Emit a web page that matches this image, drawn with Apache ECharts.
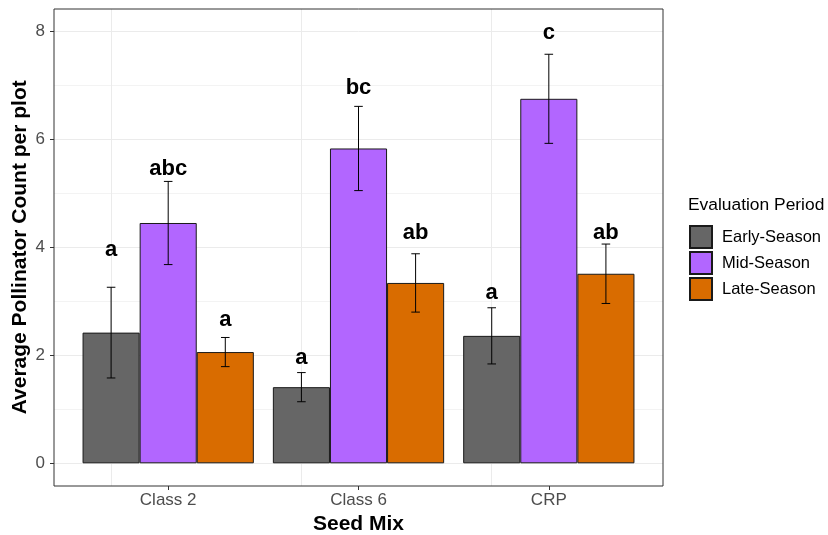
<!DOCTYPE html>
<html>
<head>
<meta charset="utf-8">
<script src="https://cdn.jsdelivr.net/npm/echarts@6/dist/echarts.min.js"></script>
<style>
  html, body { margin: 0; padding: 0; background: #ffffff; }
  #chart { width: 828px; height: 535px; }
</style>
</head>
<body>
<div id="chart"></div>
<script>
// Seed mixes on the x axis
const categories = ['Class 2', 'Class 6', 'CRP'];
// Evaluation periods (one bar each per seed mix)
const periods = ['Early-Season', 'Mid-Season', 'Late-Season'];
const periodColors = ['#666666', '#B266FF', '#D96C00'];

// Mean pollinator counts per plot and standard errors
const earlyMean = [2.42, 1.41, 2.36];
const earlySE   = [0.84, 0.27, 0.52];
const midMean   = [4.45, 5.83, 6.75];
const midSE     = [0.77, 0.78, 0.825];
const lateMean  = [2.06, 3.34, 3.51];
const lateSE    = [0.27, 0.54, 0.55];

// Significance letters and the heights they are written at
const earlyLetters = ['a', 'a', 'a'];
const midLetters   = ['abc', 'bc', 'c'];
const lateLetters  = ['a', 'ab', 'ab'];
const earlyLetterY = [3.95, 1.96, 3.15];
const midLetterY   = [5.46, 6.95, 7.97];
const lateLetterY  = [2.66, 4.26, 4.27];

// y axis ticks
const yTicks = [0, 2, 4, 6, 8];

const FONT = '"Liberation Sans", Arial, sans-serif';

const groups = [
  { mean: earlyMean, se: earlySE, letters: earlyLetters, letterY: earlyLetterY },
  { mean: midMean,   se: midSE,   letters: midLetters,   letterY: midLetterY },
  { mean: lateMean,  se: lateSE,  letters: lateLetters,  letterY: lateLetterY }
];

// panel geometry (ggplot-style discrete expansion of 0.6 band on each side)
const panel = { left: 54, top: 9, width: 609, height: 477 };
const band = panel.width / 3.2;
const zeroY = 463.3, unitPx = 54;
const yMinPanel = -(panel.top + panel.height - zeroY) / unitPx;
const yMaxPanel = (zeroY - panel.top) / unitPx;

function barSeries(k) {
  const s = {
    name: periods[k],
    type: 'bar',
    xAxisIndex: 2,
    yAxisIndex: 2,
    data: groups[k].mean,
    barWidth: '30%',
    barGap: '0%',
    z: 2,
    itemStyle: { color: periodColors[k], borderColor: '#1A1A1A', borderWidth: 1 }
  };
  if (k === 0) {
    // vertical grid lines at the seed-mix positions, kept under the bars
    s.markLine = {
      silent: true,
      symbol: 'none',
      z: 1,
      label: { show: false },
      lineStyle: { color: '#EBEBEB', width: 1, type: 'solid' },
      emphasis: { disabled: true },
      data: categories.map(c => ({ xAxis: c }))
    };
  }
  return s;
}

function errorSeries(k) {
  const g = groups[k];
  return {
    name: periods[k] + ' SE',
    type: 'custom',
    xAxisIndex: 2,
    yAxisIndex: 2,
    z: 4,
    silent: true,
    encode: { x: 0, y: 1 },
    data: categories.map((c, i) => [i, g.mean[i], g.se[i], g.letterY[i]]),
    renderItem: function (params, api) {
      const ci = api.value(0);
      const m = api.value(1), se = api.value(2);
      const bw = api.size([1, 0])[0];
      const x = api.coord([ci, m])[0] + (k - 1) * 0.3 * bw;
      const yTop = api.coord([ci, m + se])[1];
      const yBot = api.coord([ci, m - se])[1];
      const half = 0.0225 * bw;
      const ly = api.coord([ci, api.value(3)])[1];
      const st = { stroke: '#000000', lineWidth: 1 };
      return {
        type: 'group',
        children: [
          { type: 'line', shape: { x1: x, y1: yTop, x2: x, y2: yBot }, style: st },
          { type: 'line', shape: { x1: x - half, y1: yTop, x2: x + half, y2: yTop }, style: st },
          { type: 'line', shape: { x1: x - half, y1: yBot, x2: x + half, y2: yBot }, style: st },
          {
            type: 'text', x: x, y: ly,
            style: {
              text: g.letters[params.dataIndex],
              font: 'bold 22px ' + FONT,
              fill: '#000000',
              align: 'center',
              verticalAlign: 'middle'
            }
          }
        ]
      };
    }
  };
}

const chart = echarts.init(document.getElementById('chart'), null, { renderer: 'canvas' });

const gridCommon = { containLabel: false, outerBoundsMode: 'none' };

chart.setOption({
  animation: false,
  backgroundColor: '#ffffff',
  textStyle: { fontFamily: FONT },
  title: {
    text: 'Evaluation Period',
    left: 688,
    top: 197,
    padding: 0,
    textStyle: { fontSize: 17.4, fontWeight: 'normal', color: '#000000', fontFamily: FONT }
  },
  legend: {
    data: periods,
    orient: 'vertical',
    left: 689,
    top: 225,
    padding: 0,
    icon: 'rect',
    itemWidth: 22,
    itemHeight: 22,
    itemGap: 2,
    selectedMode: false,
    textStyle: { fontSize: 16.5, color: '#000000', fontFamily: FONT, padding: [0, 0, 0, 5] }
  },
  grid: [
    // panel frame
    Object.assign({ left: panel.left, top: panel.top, width: panel.width, height: panel.height,
      show: true, borderColor: '#333333', borderWidth: 1, backgroundColor: 'transparent', z: 10 }, gridCommon),
    // y scale 0..8 across the full panel width
    Object.assign({ left: panel.left, top: zeroY - 8 * unitPx, width: panel.width, height: 8 * unitPx }, gridCommon),
    // seed-mix bands
    Object.assign({ left: panel.left + 0.1 * band, top: panel.top, width: 3 * band, height: panel.height }, gridCommon)
  ],
  xAxis: [
    { gridIndex: 0, type: 'value', show: false, min: 0, max: 1 },
    { gridIndex: 1, type: 'value', show: false, min: 0, max: 1 },
    {
      gridIndex: 2,
      type: 'category',
      data: categories,
      boundaryGap: true,
      axisLine: { show: false, onZero: false },
      axisTick: { show: true, alignWithLabel: true, length: 4, lineStyle: { color: '#333333', width: 1 } },
      axisLabel: { color: '#4D4D4D', fontSize: 17, margin: 6, fontFamily: FONT },
      splitLine: { show: false },
      name: 'Seed Mix',
      nameLocation: 'middle',
      nameGap: 28,
      nameMoveOverlap: false,
      nameTextStyle: { fontSize: 21, fontWeight: 'bold', color: '#000000', fontFamily: FONT }
    }
  ],
  yAxis: [
    { gridIndex: 0, type: 'value', show: false, min: 0, max: 1 },
    {
      gridIndex: 1,
      type: 'value',
      min: yTicks[0],
      max: yTicks[yTicks.length - 1],
      interval: 2,
      axisLine: { show: false, onZero: false },
      axisTick: { show: true, length: 4, lineStyle: { color: '#333333', width: 1 } },
      axisLabel: { color: '#4D4D4D', fontSize: 17, margin: 9, fontFamily: FONT },
      splitLine: { show: true, lineStyle: { color: '#EBEBEB', width: 1 } },
      minorTick: { show: false, splitNumber: 2 },
      minorSplitLine: { show: true, lineStyle: { color: '#F3F3F3', width: 1 } },
      name: 'Average Pollinator Count per plot',
      nameLocation: 'middle',
      nameRotate: 90,
      nameGap: 23,
      nameMoveOverlap: false,
      nameTextStyle: { fontSize: 21, fontWeight: 'bold', color: '#000000', fontFamily: FONT }
    },
    { gridIndex: 2, type: 'value', show: false, min: yMinPanel, max: yMaxPanel }
  ],
  series: [
    barSeries(0), barSeries(1), barSeries(2),
    errorSeries(0), errorSeries(1), errorSeries(2)
  ]
});
</script>
</body>
</html>
